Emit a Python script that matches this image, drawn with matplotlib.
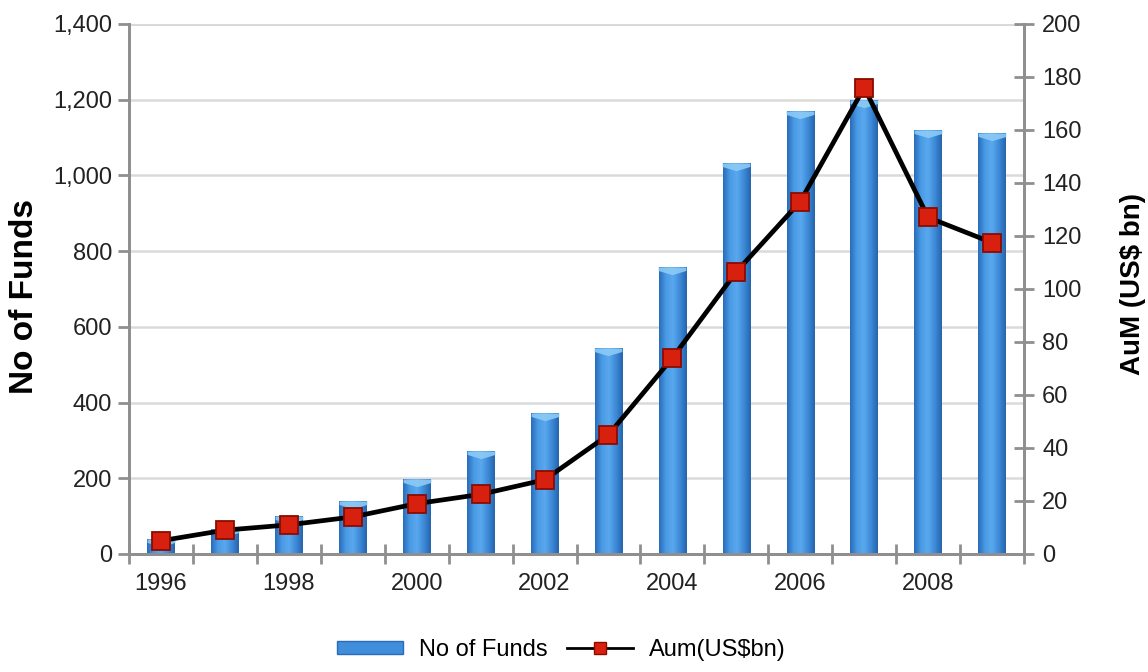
import numpy as np
import matplotlib as mpl
mpl.use('agg')
import matplotlib.pyplot as plt
from matplotlib.path import Path
from matplotlib.patches import Patch
from matplotlib.lines import Line2D
from matplotlib.colors import LinearSegmentedColormap

plt.rcParams['font.family'] = ['Liberation Sans', 'DejaVu Sans']

## yearly fund counts and assets under management
years = [1996, 1997, 1998, 1999, 2000, 2001, 2002,
         2003, 2004, 2005, 2006, 2007, 2008, 2009]
num_funds = [40, 65, 100, 140, 197, 273, 373,
             544, 757, 1032, 1169, 1200, 1121, 1111]
aum_bn = [5, 9, 11, 14, 19, 22.5, 28,
          45, 74, 106.5, 133, 176, 127, 117.5]
year_labels = ['1996', '1998', '2000', '2002', '2004', '2006', '2008']

grey = '#8f8f8f'
fig = plt.figure(figsize=(11.48, 6.72), dpi=100)
ax = fig.add_axes([0.1124, 0.1756, 0.7796, 0.7887])
ax2 = ax.twinx()

x = np.arange(len(years))
width = 0.43
ax.set_xlim(-0.5, len(years) - 0.5)
ax.set_ylim(0, 1400)
ax2.set_ylim(0, 200)

# bars: solid fill, then a horizontal shading clipped to each bar
bars = ax.bar(x, num_funds, width=width, color='#3b88d6', zorder=2)
shade = LinearSegmentedColormap.from_list(
    'cyl', ['#2a6cb8', '#4a9be6', '#5aa8ee', '#3d8bd8', '#2664ae'])
grad = np.linspace(0, 1, 64).reshape(1, -1)
for b in bars:
    im = ax.imshow(grad, cmap=shade, aspect='auto', zorder=2.5,
                   extent=[b.get_x(), b.get_x() + b.get_width(), 0, b.get_height()])
    im.set_clip_path(b)

# light cap on top of each bar
cap = Path([(-1, 0), (1, 0), (1, -0.25), (0, -0.55), (-1, -0.25), (-1, 0)],
           [Path.MOVETO, Path.LINETO, Path.LINETO, Path.LINETO, Path.LINETO, Path.CLOSEPOLY])
ax.plot(x, num_funds, linestyle='none', marker=cap, markersize=20,
        markerfacecolor='#8ccbf6', markeredgewidth=0, alpha=0.9, zorder=3)

ax.set_xlim(-0.5, len(years) - 0.5)
ax.set_ylim(0, 1400)

# AuM line on the right axis
ax2.plot(x, aum_bn, color='black', lw=3.4, zorder=4,
         marker='s', markersize=12.5, markerfacecolor='#d8200e',
         markeredgecolor='#8a0c02', markeredgewidth=1.3)

# grid and spines
ax.set_yticks(np.arange(0, 1401, 200))
ax.yaxis.set_major_formatter(mpl.ticker.StrMethodFormatter('{x:,.0f}'))
ax.grid(axis='y', color='#dadada', lw=1.8, zorder=0)
ax.set_axisbelow(True)
for a in (ax, ax2):
    a.spines['top'].set_visible(False)
    for s in ('left', 'right', 'bottom'):
        a.spines[s].set_color(grey)
        a.spines[s].set_linewidth(2)
ax.axhline(1400, color='#d4d4d4', lw=2.2, zorder=0)

ax2.set_yticks(np.arange(0, 201, 20))

# category boundaries as ticks, labels every other year
ax.set_xticks(np.arange(-0.5, len(years), 1.0))
ax.set_xticklabels([])
ax.set_xticks(x[::2], minor=True)
ax.set_xticklabels(year_labels, minor=True)
ax.tick_params(axis='x', which='major', direction='inout', length=14,
               width=2, color=grey)
ax.tick_params(axis='x', which='minor', length=0, pad=14,
               labelsize=17, labelcolor='#222222')
ax.tick_params(axis='y', direction='out', length=8, width=2, color=grey,
               labelsize=17, labelcolor='#222222', pad=4)
ax2.tick_params(axis='y', direction='inout', length=14, width=2, color=grey,
                labelsize=17, labelcolor='#222222', pad=6)

ax.set_ylabel('No of Funds', fontsize=24, fontweight='bold')
ax.yaxis.set_label_coords(-0.099, 0.485)
ax2.set_ylabel('AuM (US$ bn)', fontsize=20, fontweight='bold')
ax2.yaxis.set_label_coords(1.107, 0.51)

handles = [Patch(facecolor='#3f8ddb', edgecolor='#2a6cb8'),
           Line2D([], [], color='black', lw=2, marker='s', markersize=9,
                  markerfacecolor='#d8200e', markeredgecolor='#8a0c02')]
fig.legend(handles, ['No of Funds', 'Aum(US$bn)'], loc='center',
           bbox_to_anchor=(0.489, 0.033), ncol=2, frameon=False, fontsize=17,
           handlelength=2.8, handleheight=0.5, columnspacing=0.8,
           handletextpad=0.7)

fig.savefig('out.png', dpi=100)
